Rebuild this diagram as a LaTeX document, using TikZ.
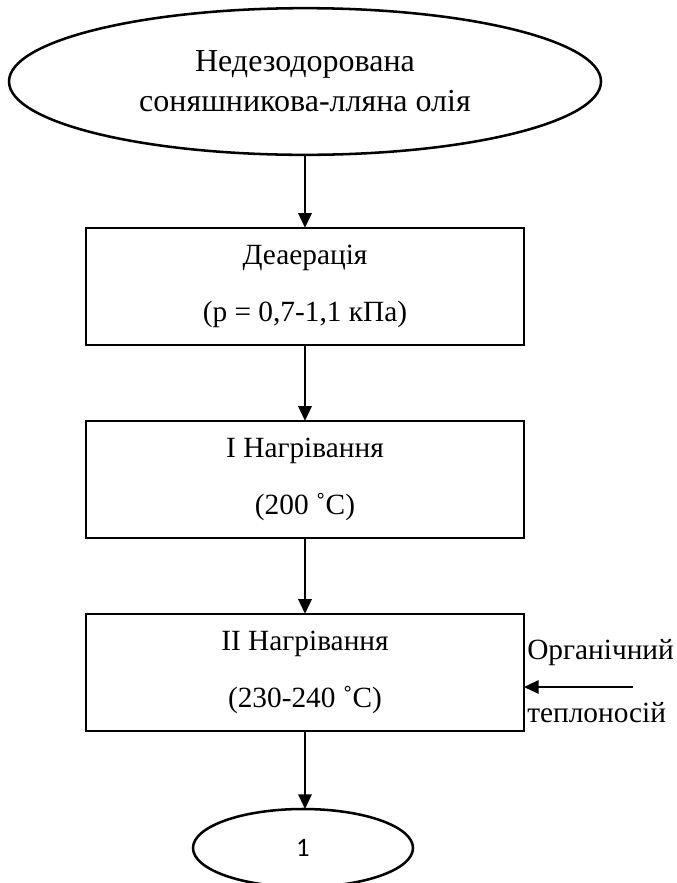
\documentclass[tikz,border=0pt]{standalone}
\usepackage{fontspec}
\setmainfont{Liberation Serif}
\newfontfamily\calibfont{Carlito}
\usetikzlibrary{arrows.meta,shapes.geometric}
\begin{document}
\begin{tikzpicture}[x=0.75pt,y=-0.75pt,
  oval/.style={draw, ellipse, line width=1.9pt, inner sep=0pt, outer sep=0pt},
  stepbox/.style={draw, rectangle, line width=1.9pt, minimum width=328.5pt, minimum height=88pt,
    inner sep=0pt, outer sep=0pt, align=center, font=\fontsize{22}{43}\selectfont},
  lbl/.style={font=\fontsize{22}{26}\selectfont, inner sep=0pt},
  arr/.style={-{Triangle[length=11pt,width=10pt]}, line width=1.6pt}]
\useasboundingbox (0,0) rectangle (677,883);
\clip (0,0) rectangle (677,883);
\node[oval, minimum width=444pt, minimum height=110pt, align=center,
  font=\fontsize{24}{30}\selectfont] (top) at (305,81.5) {Недезодорована\\соняшникова-лляна олія};
\node[stepbox] (b1) at (305,286.5) {Деаерація\\(р = 0,7-1,1 кПа)};
\node[stepbox] (b2) at (305,479.5) {I Нагрівання\\(200 ˚С)};
\node[stepbox] (b3) at (305,672.5) {II Нагрівання\\(230-240 ˚С)};
\node[oval, minimum width=165pt, minimum height=58.5pt] (end) at (303,848) {\calibfont\fontsize{20}{24}\selectfont 1};
\coordinate (src) at (633,687);
\node[lbl, anchor=west] (org) at (527,653) {Органічний};
\node[lbl, anchor=west] (tep) at (527,713) {теплоносій};
\draw[arr] (top.south) -- (b1.north);
\draw[arr] (b1.south) -- (b2.north);
\draw[arr] (b2.south) -- (b3.north);
\draw[arr] (b3.south) -- (b3.south |- end.north);
\draw[arr] (src) -- (src -| b3.east);
\end{tikzpicture}
\end{document}
